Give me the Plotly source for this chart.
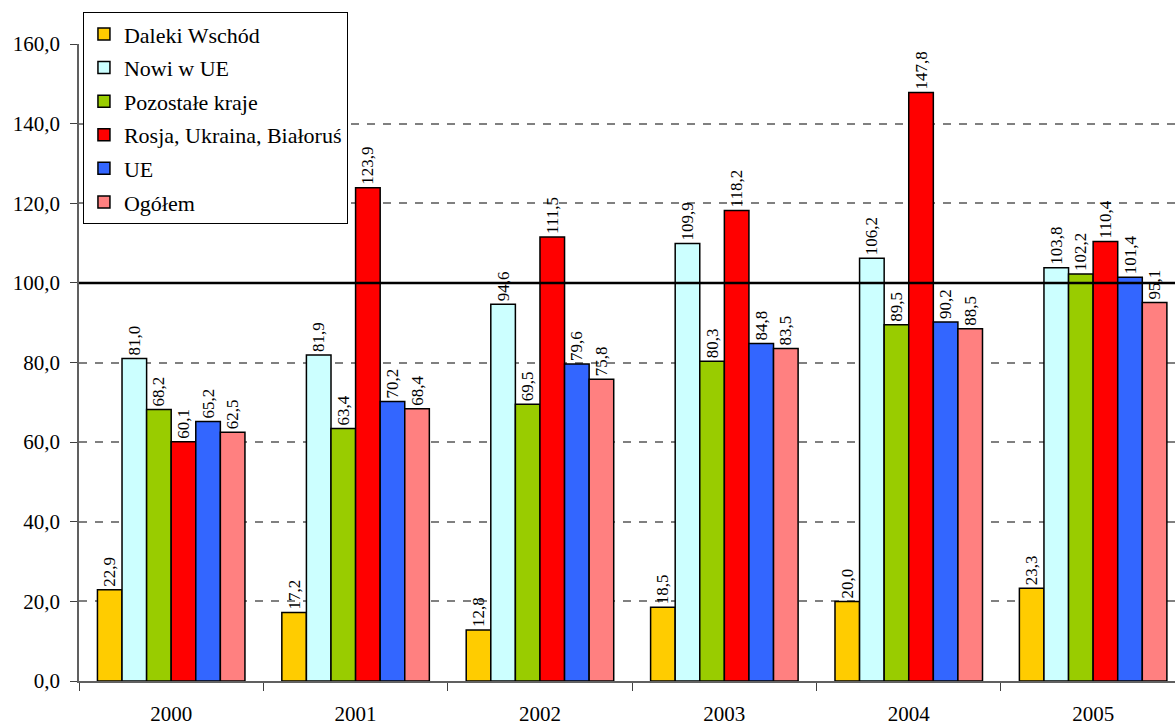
import plotly.graph_objects as go

# Data
years = ["2000", "2001", "2002", "2003", "2004", "2005"]
daleki_wschod = [22.9, 17.2, 12.8, 18.5, 20.0, 23.3]
nowi_w_ue = [81.0, 81.9, 94.6, 109.9, 106.2, 103.8]
pozostale_kraje = [68.2, 63.4, 69.5, 80.3, 89.5, 102.2]
rosja_ukraina_bialorus = [60.1, 123.9, 111.5, 118.2, 147.8, 110.4]
ue = [65.2, 70.2, 79.6, 84.8, 90.2, 101.4]
ogolem = [62.5, 68.4, 75.8, 83.5, 88.5, 95.1]

series = [
    ("Daleki Wschód", daleki_wschod, "#FFCC00"),
    ("Nowi w UE", nowi_w_ue, "#CCFFFF"),
    ("Pozostałe kraje", pozostale_kraje, "#99CC00"),
    ("Rosja, Ukraina, Białoruś", rosja_ukraina_bialorus, "#FF0000"),
    ("UE", ue, "#3366FF"),
    ("Ogółem", ogolem, "#FF8080"),
]

FONT = "Liberation Serif"

fig = go.Figure()
for i, (name, vals, color) in enumerate(series):
    fig.add_trace(go.Bar(
        x=years,
        y=vals,
        name=name,
        legendgroup=f"g{i}",
        marker=dict(color=color, line=dict(color="#000000", width=1.5)),
        texttemplate="%{y:.1f}",
        textposition="outside",
        textangle=-90,
        constraintext="none",
        cliponaxis=False,
        textfont=dict(family=FONT, size=17, color="#000000"),
    ))

# Reference line at 100
fig.add_shape(type="line", xref="paper", x0=0, x1=1, yref="y", y0=100, y1=100,
              line=dict(color="#000000", width=2.5), layer="above")

fig.update_layout(
    width=1175,
    height=726,
    margin=dict(l=79, r=0, t=44, b=45, autoexpand=False),
    paper_bgcolor="white",
    plot_bgcolor="white",
    separators=", ",
    barmode="group",
    bargap=0.2,
    bargroupgap=0,
    font=dict(family=FONT, color="#000000"),
    showlegend=True,
    legend=dict(
        x=0.0036, xanchor="left",
        y=1.050, yanchor="top",
        bgcolor="white",
        bordercolor="#000000",
        borderwidth=1,
        font=dict(family=FONT, size=22, color="#000000"),
        traceorder="grouped",
        tracegroupgap=2,
        itemwidth=30,
    ),
    xaxis=dict(
        type="category",
        range=[-0.5, 5.444],
        automargin=False,
        showline=True,
        linecolor="#606060",
        linewidth=1.5,
        ticks="outside",
        tickson="boundaries",
        ticklen=8,
        tickcolor="#404040",
        tickfont=dict(family=FONT, size=21, color="#000000"),
        ticklabelstandoff=13,
        showgrid=False,
        zeroline=False,
    ),
    yaxis=dict(
        range=[0, 160],
        dtick=20,
        tickformat=".1f",
        automargin=False,
        showline=True,
        linecolor="#606060",
        linewidth=1.5,
        ticks="outside",
        ticklen=7,
        tickcolor="#404040",
        tickfont=dict(family=FONT, size=21, color="#000000"),
        ticklabelstandoff=6,
        showgrid=True,
        gridcolor="#808080",
        gridwidth=1.5,
        griddash="8px,8px",
        zeroline=False,
    ),
)

fig.write_html("out.html")
